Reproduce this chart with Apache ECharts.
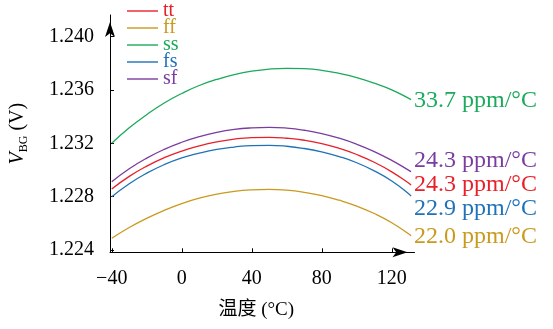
<!DOCTYPE html>
<html>
<head>
<meta charset="utf-8">
<script src="https://cdn.jsdelivr.net/npm/echarts@6/dist/echarts.min.js"></script>
<style>html,body{margin:0;padding:0;background:#fff}#c{width:553px;height:329px}</style>
</head>
<body>
<div id="c"></div>
<script>
// ---- data ----
const TEMPS = [-40, -30, -20, -10, 0, 10, 20, 30, 40, 50, 60, 70, 80, 90, 100, 110, 120, 130, 131];
const SERIES_NAMES = ['tt', 'ff', 'ss', 'fs', 'sf'];
const TT = [1.22857, 1.22952, 1.23029, 1.23092, 1.23142, 1.23181, 1.23211, 1.23232, 1.23243, 1.23245,
            1.23238, 1.23223, 1.23198, 1.23162, 1.23116, 1.23058, 1.22986, 1.22898, 1.22886];
const FF = [1.22487, 1.22568, 1.22637, 1.22697, 1.22748, 1.22788, 1.22818, 1.22839, 1.22851, 1.22855,
            1.22848, 1.22832, 1.22808, 1.22773, 1.22729, 1.22673, 1.22604, 1.22517, 1.22505];
const SS = [1.23200, 1.23316, 1.23415, 1.23503, 1.23574, 1.23634, 1.23679, 1.23715, 1.23741, 1.23757,
            1.23763, 1.23760, 1.23748, 1.23725, 1.23693, 1.23651, 1.23601, 1.23535, 1.23527];
const FS = [1.22799, 1.22897, 1.22976, 1.23040, 1.23090, 1.23126, 1.23154, 1.23172, 1.23183, 1.23185,
            1.23178, 1.23161, 1.23135, 1.23100, 1.23054, 1.22993, 1.22917, 1.22818, 1.22803];
const SF = [1.22912, 1.23009, 1.23089, 1.23155, 1.23208, 1.23250, 1.23282, 1.23304, 1.23316, 1.23320,
            1.23314, 1.23298, 1.23273, 1.23238, 1.23193, 1.23138, 1.23072, 1.22995, 1.22987];
const RATE_LABELS = ['24.3 ppm/°C', '22.0 ppm/°C', '33.7 ppm/°C', '22.9 ppm/°C', '24.3 ppm/°C'];
const X_TICKS = [-40, 0, 40, 80, 120];
const Y_TICKS = [1.224, 1.228, 1.232, 1.236, 1.240];

// ---- styling ----
const COLORS = ['#e8202a', '#c99a1e', '#1aaa5a', '#1f72b8', '#7a3c9e'];
const LABEL_DY = [-0.5, 0.5, 0.5, 12.5, -11];
const FONT = "'Liberation Serif', 'Noto Sans CJK SC', serif";
const VALUES = [TT, FF, SS, FS, SF];

const chart = echarts.init(document.getElementById('c'), null, {renderer: 'canvas'});

const series = SERIES_NAMES.map((name, i) => ({
  name: name,
  type: 'line',
  data: TEMPS.map((t, j) => [t, VALUES[i][j]]),
  smooth: 0.5,
  symbol: 'none',
  clip: false,
  lineStyle: {color: COLORS[i], width: 1.3},
  itemStyle: {color: COLORS[i]},
  endLabel: {
    show: true,
    formatter: RATE_LABELS[i],
    color: COLORS[i],
    fontFamily: FONT,
    fontSize: 24,
    distance: 3,
    offset: [0, LABEL_DY[i]]
  },
  emphasis: {disabled: true}
}));

const legendText = {fontFamily: FONT, fontSize: 20};

chart.setOption({
  animation: false,
  backgroundColor: '#fff',
  grid: {left: 110, right: 138.5, top: 15, bottom: 76.7, containLabel: false, outerBoundsMode: 'none'},
  legend: {
    orient: 'vertical',
    left: 127,
    top: 1,
    padding: 0,
    icon: 'rect',
    itemWidth: 31,
    itemHeight: 1.4,
    itemGap: -3,
    data: SERIES_NAMES.map((n, i) => ({name: n, textStyle: Object.assign({color: COLORS[i]}, legendText)})),
    textStyle: legendText
  },
  xAxis: {
    type: 'value',
    min: -41,
    max: 133,
    splitLine: {show: false},
    axisLine: {show: true, onZero: false, lineStyle: {color: '#000', width: 1},
      symbol: ['none', 'arrow'], symbolSize: [7.5, 15], symbolOffset: [0, -7]},
    axisTick: {show: true, inside: true, length: 4, customValues: X_TICKS, lineStyle: {color: '#000'}},
    axisLabel: {customValues: X_TICKS, color: '#000', fontFamily: FONT, fontSize: 20, margin: 16,
      formatter: v => (v < 0 ? '\u2212' + Math.abs(v) : String(v))},
    name: '温度 (°C)',
    nameLocation: 'middle',
    nameGap: 48,
    nameTextStyle: {color: '#000', fontFamily: FONT, fontSize: 19, padding: [0, 12, 0, 0]}
  },
  yAxis: {
    type: 'value',
    min: 1.22382,
    max: 1.24163,
    splitLine: {show: false},
    axisLine: {show: true, onZero: false, lineStyle: {color: '#000', width: 1},
      symbol: ['none', 'arrow'], symbolSize: [7.5, 15], symbolOffset: [0, -7]},
    axisTick: {show: true, inside: true, length: 4, customValues: Y_TICKS, lineStyle: {color: '#000'}},
    axisLabel: {customValues: Y_TICKS, color: '#000', fontFamily: FONT, fontSize: 20, margin: 16,
      formatter: v => v.toFixed(3)},
    name: '{v|V}{sub|BG} (V)',
    nameLocation: 'middle',
    nameGap: 80,
    nameTextStyle: {
      color: '#000', fontFamily: FONT, fontSize: 20, lineHeight: 24,
      rich: {
        v: {fontStyle: 'italic', fontFamily: FONT, fontSize: 20, lineHeight: 24, color: '#000'},
        sub: {fontFamily: FONT, fontSize: 12, lineHeight: 13, verticalAlign: 'bottom', color: '#000'}
      }
    }
  },
  series: series
});
</script>
</body>
</html>
